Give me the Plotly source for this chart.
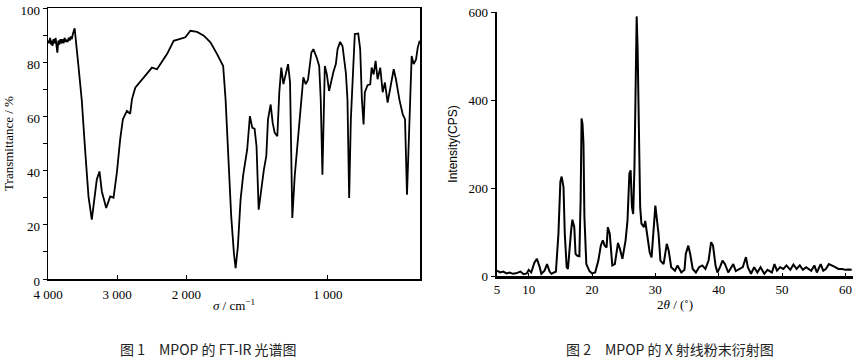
import plotly.graph_objects as go

# ---------------- FT-IR data (Fig. 1) ----------------
ir_wavenumber = [4000, 3985, 3970, 3955, 3945, 3935, 3920, 3905, 3890, 3875, 3865, 3850,
                 3835, 3820, 3805, 3790, 3775, 3760, 3745, 3730, 3715, 3700, 3685, 3670,
                 3655, 3640, 3625, 3615, 3560, 3512, 3464, 3415, 3367, 3295, 3256, 3222,
                 3159, 3101, 3053, 3005, 2957, 2918, 2860, 2812, 2787, 2739, 2618, 2498,
                 2425, 2280, 2184, 2087, 2015, 1972, 1924, 1877, 1830, 1783, 1740, 1723,
                 1707, 1683, 1664, 1652, 1636, 1617, 1598, 1570, 1551, 1534, 1518, 1504,
                 1489, 1475, 1452, 1435, 1423, 1404, 1390, 1376, 1357, 1343, 1329, 1314,
                 1298, 1281, 1267, 1251, 1234, 1210, 1192, 1173, 1156, 1140, 1116, 1102,
                 1078, 1061, 1050, 1038, 1021, 1007, 991, 974, 960, 943, 931, 913, 896,
                 872, 861, 849, 837, 825, 809, 785, 771, 759, 747, 738, 719, 700, 690,
                 676, 662, 648, 629, 612, 596, 577, 558, 534, 518, 494, 470, 454, 440,
                 430, 416, 407, 393, 376, 364, 350]
ir_transmittance = [88, 87, 89, 86.5, 88, 86, 88.5, 87, 89, 86.5, 83.5, 88,
                    86.5, 88.5, 87, 88.5, 87, 89, 87.5, 88, 87.5, 89, 88, 89.5,
                    88.5, 90.5, 91.5, 92.5, 78.6, 66, 47.8, 30.5, 21.9, 36.7, 39.7, 32.3,
                    26.2, 30.5, 30, 39.2, 51.5, 58.9, 62, 61, 66.3, 70.6, 74.3, 78,
                    77.4, 83, 87.9, 88.8, 89.2, 91.6, 91.2, 89.8, 87.3, 83, 78.6, 66.3,
                    47.8, 23.1, 9.5, 4, 12, 29.3, 38.5, 47.8, 60.1, 55.8, 55.5, 49,
                    25.6, 31.8, 40.4, 45.3, 58.9, 64.4, 57.7, 54, 52.7, 68.9, 78, 71.9,
                    75.6, 79.3, 72.6, 22.5, 37.9, 51.5, 63.8, 74.4, 71.9, 73.5, 83.6, 84.8,
                    81.6, 78.6, 66.3, 38.5, 78.6, 75.6, 69.4, 73.7, 76.5, 79.3, 84.8, 87.5, 86,
                    76, 66.3, 29.9, 58.9, 72.5, 90.4, 90.6, 84.8, 66.3, 57, 68.9, 71.5, 71.8, 78,
                    75.5, 80.5, 73.7, 78, 68.9, 72.5, 65.1, 70.3, 77.4, 73.7, 66.3, 60.7, 59, 31.1,
                    45.3, 62.6, 82.3, 79.3, 81, 85.4, 87.9]
ir_x_ticks = [4000, 3000, 2000, 1000]
ir_x_tick_labels = ["4 000", "3 000", "2 000", "1 000"]
ir_y_ticks = [0, 20, 40, 60, 80, 100]

# ---------------- XRD data (Fig. 2) ----------------
xrd_two_theta = [5.0, 5.5, 6.0, 6.5, 7.0, 7.5, 8.0, 8.7, 9.2, 9.7, 10.0, 10.4, 10.9, 11.3,
                 11.7, 12.0, 12.5, 12.9, 13.3, 13.6, 14.0, 14.3, 14.7, 15.0, 15.2, 15.5,
                 15.7, 16.0, 16.2, 16.5, 16.7, 16.9, 17.2, 17.4, 17.7, 18.0, 18.2, 18.35,
                 18.5, 18.65, 18.8, 19.1, 19.6, 20.0, 20.5, 21.0, 21.4, 21.7, 22.0, 22.3,
                 22.5, 22.8, 23.2, 23.6, 24.1, 24.4, 24.8, 25.3, 25.6, 25.9, 26.1, 26.3,
                 26.5, 26.7, 26.9, 27.05, 27.2, 27.4, 27.6, 27.8, 28.2, 28.4, 28.7, 29.1,
                 29.4, 29.8, 30.0, 30.2, 30.5, 30.8, 31.3, 31.8, 32.1, 32.5, 33.1, 33.5,
                 34.1, 34.6, 34.8, 35.2, 35.5, 35.9, 36.4, 36.9, 37.4, 37.9, 38.4, 38.8,
                 39.1, 39.5, 39.8, 40.2, 40.6, 41.0, 41.5, 42.0, 42.3, 42.7, 43.3, 43.8,
                 44.3, 44.6, 45.1, 45.6, 46.1, 46.6, 47.2, 47.7, 48.4, 48.8, 49.2, 49.7,
                 50.2, 50.7, 51.3, 51.8, 52.3, 52.8, 53.3, 53.8, 54.6, 55.1, 55.5, 56.1,
                 56.5, 56.9, 57.4, 57.9, 58.4, 58.9, 59.5, 60.0, 60.5, 61.0]
xrd_intensity = [12, 8, 10, 6, 8, 5, 6, 10, 4, 6, 14, 8, 30, 39,
                 22, 5, 12, 27, 10, 5, 8, 10, 96, 214, 226, 202,
                 96, 20, 16, 80, 103, 128, 111, 50, 46, 45, 172, 358,
                 345, 301, 134, 27, 11, 6, 8, 35, 70, 81, 69, 65,
                 111, 96, 24, 27, 75, 62, 39, 81, 126, 233, 240, 157,
                 141, 248, 400, 590, 514, 286, 157, 119, 111, 125, 96, 54,
                 42, 126, 160, 134, 96, 35, 27, 73, 58, 20, 12, 24,
                 8, 14, 50, 69, 50, 16, 8, 20, 24, 16, 35, 77,
                 69, 24, 8, 20, 35, 27, 8, 20, 27, 11, 16, 20,
                 43, 20, 5, 20, 8, 20, 5, 14, 8, 27, 12, 20,
                 16, 24, 14, 26, 16, 24, 14, 20, 12, 24, 8, 27,
                 12, 16, 27, 24, 20, 16, 16, 14, 15, 14]
xrd_x_ticks = [5, 10, 20, 30, 40, 50, 60]
xrd_y_ticks = [0, 200, 400, 600]

# Compressed scale above 2000 cm-1 (as on the original instrument chart)
RATIO = 69 / 141


def fold(s):
    return s if s <= 2000 else 2000 + (s - 2000) * RATIO


W, H = 858, 364
serif = "Liberation Serif"
tick_font = dict(family=serif, size=13, color="black")

fig = go.Figure()
fig.add_trace(go.Scatter(x=[fold(s) for s in ir_wavenumber], y=ir_transmittance,
                         mode="lines", line=dict(color="black", width=1.8),
                         xaxis="x", yaxis="y", showlegend=False, hoverinfo="skip"))
fig.add_trace(go.Scatter(x=xrd_two_theta, y=xrd_intensity,
                         mode="lines", line=dict(color="black", width=2),
                         xaxis="x2", yaxis="y2", showlegend=False, hoverinfo="skip"))

common = dict(showgrid=False, zeroline=False, automargin=False, tickfont=tick_font,
              tickcolor="black", linecolor="black", showline=True)

fig.update_layout(
    template="none",
    width=W, height=H,
    margin=dict(l=0, r=0, t=0, b=0, autoexpand=False),
    paper_bgcolor="white", plot_bgcolor="white",
    font=dict(family=serif, color="black"),
    xaxis=dict(domain=[48 / W, 420 / W], range=[fold(4000), 348],
               tickvals=[fold(v) for v in ir_x_ticks], ticktext=ir_x_tick_labels,
               ticks="inside", ticklen=4, linewidth=1.5, mirror=True,
               ticklabelstandoff=3,
               title=dict(text="<i>σ</i> / cm<sup>−1</sup>",
                          font=dict(family=serif, size=13, color="black"), standoff=0),
               anchor="y", **common),
    yaxis=dict(domain=[1 - 279 / H, 1 - 8 / H], range=[0, 100],
               tickvals=ir_y_ticks, ticks="outside", ticklen=4,
               minor=dict(dtick=10, ticks="outside", ticklen=4, tickcolor="black"),
               linewidth=1.5, mirror=True, ticklabelshift=2,
               title=dict(text="Transmittance / %",
                          font=dict(family=serif, size=13, color="black"), standoff=4),
               anchor="x", **common),
    xaxis2=dict(domain=[497 / W, 853 / W], range=[5, 61.2],
                tickvals=xrd_x_ticks, ticks="inside", ticklen=3, linewidth=2.5,
                title=dict(text="2<i>θ</i> / (˚)",
                           font=dict(family=serif, size=13, color="black"), standoff=2),
                anchor="y2", **common),
    yaxis2=dict(domain=[1 - 276 / H, 1 - 12 / H], range=[0, 600],
                tickvals=xrd_y_ticks, ticks="outside", ticklen=4, linewidth=2.5,
                title=dict(text="Intensity(CPS)",
                           font=dict(family="Liberation Sans Narrow, Liberation Sans", size=12,
                                     color="black"), standoff=8),
                anchor="x2", **common),
    annotations=[
        dict(text="图 1　MPOP 的 FT-IR 光谱图", x=208 / W, y=1 - 349 / H,
             xref="paper", yref="paper", showarrow=False, xanchor="center", yanchor="middle",
             font=dict(family="Noto Sans CJK SC", size=14, color="#222")),
        dict(text="图 2　MPOP 的 X 射线粉末衍射图", x=670 / W, y=1 - 349 / H,
             xref="paper", yref="paper", showarrow=False, xanchor="center", yanchor="middle",
             font=dict(family="Noto Sans CJK SC", size=14, color="#222")),
    ],
)

fig.write_html("out.html", config={"displayModeBar": False, "staticPlot": True},
               post_script="document.body.style.margin='0';document.body.style.overflow='hidden';")
